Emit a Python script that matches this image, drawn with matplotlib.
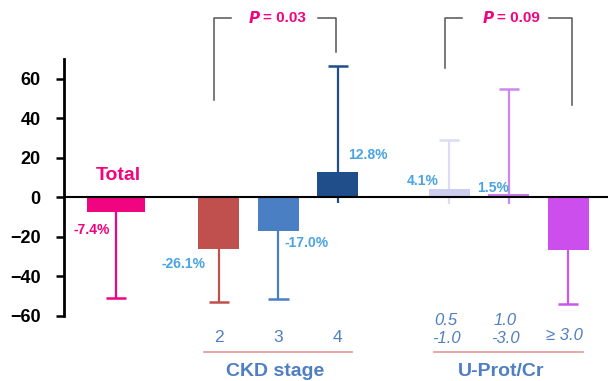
import numpy as np
import matplotlib as mpl
import matplotlib.pyplot as plt

mpl.rcParams["font.family"] = ["Liberation Sans", "DejaVu Sans"]

# percent change per group, with whisker ends
groups = ["Total", "CKD 2", "CKD 3", "CKD 4", "0.5-1.0", "1.0-3.0", ">=3.0"]
values = [-7.4, -26.1, -17.0, 12.8, 4.1, 1.5, -26.8]
err_ends = [-51.0, -53.0, -51.5, 66.6, 29.2, 55.0, -54.0]
stub_ends = [None, None, None, -3.0, -3.5, -3.5, None]
value_labels = ["-7.4%", "-26.1%", "-17.0%", "12.8%", "4.1%", "1.5%", None]

ckd_ticks = ["2", "3", "4"]
uprot_ticks = ["0.5\n-1.0", "1.0\n-3.0", "\u2265 3.0"]
p_values = ["0.03", "0.09"]

pos = np.array([0, 1.73, 2.73, 3.73, 5.6, 6.6, 7.6])
widths = [0.97, 0.69, 0.69, 0.69, 0.69, 0.69, 0.69]
fill = ["#f0047f", "#c0504d", "#4a7fc4", "#1f4e8a", "#cdcdf2", "#c77ae6", "#cc4eec"]
whisk = ["#f0047f", "#c0504d", "#4a7fc4", "#1f4e8a", "#dcdcf6", "#cc88ee", "#cc55ee"]
pink = "#f0047f"
lab_blue = "#4aa3e3"
cat_blue = "#4f7fc2"
grey = "#555555"

fig = plt.figure(figsize=(6.08, 3.81), dpi=100)
ax = fig.add_axes([64 / 608, 65 / 381, 1 - 64 / 608, 257 / 381])
ax.set_xlim(-0.874, 8.27)
ax.set_ylim(-60, 70)

ax.bar(pos, values, width=widths, color=fill, zorder=2)

for x, v, e, s, c in zip(pos, values, err_ends, stub_ends, whisk):
    if s is None:
        ax.vlines(x, min(v, e), max(v, e), color=c, lw=1.6, zorder=1)
    else:
        ax.vlines(x, s, e, color=c, lw=1.6, zorder=1)
    ax.hlines(e, x - 0.17, x + 0.17, color=c, lw=1.8, zorder=1)

ax.axhline(0, color="black", lw=1.5, zorder=3)

for side in ["top", "right", "bottom"]:
    ax.spines[side].set_visible(False)
ax.spines["left"].set_linewidth(2)
ax.spines["left"].set_bounds(-60, 70)
ax.set_xticks([])
ax.set_yticks(np.arange(-60, 61, 20))
ax.tick_params(axis="y", length=6, width=1.8, pad=11, labelsize=13)
for t in ax.get_yticklabels():
    t.set_fontweight("bold")

# value labels
lab_xy = [(-0.72, -16.5), (0.77, -33.5), (2.84, -23), (3.9, 21.2), (4.89, 8.1), (6.07, 5.0)]
for i, ((lx, ly), txt) in enumerate(zip(lab_xy, value_labels[:6])):
    ax.text(lx, ly, txt, color=pink if i == 0 else lab_blue, fontsize=10,
            fontweight="bold", ha="left", va="center")
ax.text(-0.34, 11, "Total", color=pink, fontsize=14, fontweight="bold",
        ha="left", va="center")

# significance brackets
def bracket(x0, x1, y_top, y0, y1, gap0, gap1, p):
    ax.plot([x0, x0, x0 + gap0], [y0, y_top, y_top], color=grey, lw=1.1, clip_on=False)
    ax.plot([x1 - gap1, x1, x1], [y_top, y_top, y1], color=grey, lw=1.1, clip_on=False)
    xm = (x0 + x1) / 2
    ax.text(xm - 0.22, y_top, "$\\mathbfit{P}$", color=pink, fontsize=11,
            ha="right", va="center", clip_on=False)
    ax.text(xm - 0.19, y_top, "= " + p, color=pink, fontsize=11, fontweight="bold",
            ha="left", va="center", clip_on=False)

bracket(1.64, 3.69, 90.5, 49.5, 73.3, 0.29, 0.29, p_values[0])
bracket(5.53, 7.66, 90.5, 65.3, 46.5, 0.29, 0.39, p_values[1])

# group tick labels and underlines
for x, t in zip(pos[1:4], ckd_ticks):
    ax.text(x, -71, t, color=cat_blue, fontsize=12.5, ha="center", va="center", clip_on=False)
ax.text(5.55, -67, uprot_ticks[0], color=cat_blue, fontsize=12, style="italic",
        ha="center", va="center", linespacing=1.25, clip_on=False)
ax.text(6.54, -67, uprot_ticks[1], color=cat_blue, fontsize=12, style="italic",
        ha="center", va="center", linespacing=1.25, clip_on=False)
ax.text(7.54, -70, uprot_ticks[2], color=cat_blue, fontsize=12, style="italic",
        ha="center", va="center", clip_on=False)

ax.plot([1.48, 3.97], [-78, -78], color="#e0a2a2", lw=1.3, clip_on=False)
ax.plot([5.34, 7.85], [-78, -78], color="#e0a2a2", lw=1.3, clip_on=False)
ax.text(2.67, -88, "CKD stage", color=cat_blue, fontsize=14, fontweight="bold",
        ha="center", va="center", clip_on=False)
ax.text(6.47, -88, "U-Prot/Cr", color=cat_blue, fontsize=14, fontweight="bold",
        ha="center", va="center", clip_on=False)

fig.savefig("out.png", dpi=100)
